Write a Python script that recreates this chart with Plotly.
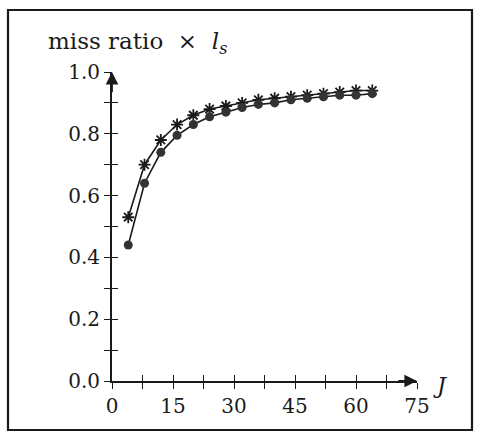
import plotly.graph_objects as go

# Data
J = [4, 8, 12, 16, 20, 24, 28, 32, 36, 40, 44, 48, 52, 56, 60, 64]
star_series = [0.53, 0.70, 0.78, 0.83, 0.86, 0.88, 0.89, 0.90, 0.91, 0.915,
               0.92, 0.925, 0.93, 0.935, 0.94, 0.94]
circle_series = [0.44, 0.64, 0.74, 0.795, 0.83, 0.855, 0.87, 0.885, 0.895, 0.90,
                 0.91, 0.915, 0.92, 0.925, 0.925, 0.93]
x_ticks = [0, 15, 30, 45, 60, 75]
y_ticks = [0.0, 0.2, 0.4, 0.6, 0.8, 1.0]
y_tick_text = ["0.0", "0.2", "0.4", "0.6", "0.8", "1.0"]

FONT = "DejaVu Serif"
INK = "#1a1a1a"

fig = go.Figure()
fig.add_trace(go.Scatter(
    x=J, y=star_series, mode="lines+markers",
    line=dict(color=INK, width=1.6),
    marker=dict(symbol="asterisk", size=10, line=dict(color=INK, width=1.8), color=INK),
    showlegend=False))
fig.add_trace(go.Scatter(
    x=J, y=circle_series, mode="lines+markers",
    line=dict(color=INK, width=1.6),
    marker=dict(symbol="circle", size=9, color="#333333"),
    showlegend=False))

# invisible trace on the overlay axes so they render
fig.add_trace(go.Scatter(x=[None], y=[None], xaxis="x2", yaxis="y2", showlegend=False))

axis_common = dict(showgrid=False, zeroline=False, color=INK, ticklen=6, tickwidth=1.3,
                   tickcolor=INK, tickfont=dict(family=FONT, size=20, color=INK))

fig.update_layout(
    width=478, height=439,
    margin=dict(l=112, r=61, t=72, b=58, autoexpand=False),
    paper_bgcolor="white", plot_bgcolor="white",
    font=dict(family=FONT, color=INK),
    xaxis=dict(range=[0, 75], tickvals=x_ticks, ticks="outside",
               showline=True, linecolor=INK, linewidth=1.8,
               minor=dict(dtick=7.5, tick0=0, ticks="outside", ticklen=6, tickcolor=INK, tickwidth=1.3),
               **axis_common),
    yaxis=dict(range=[0, 1], tickvals=y_ticks, ticktext=y_tick_text, ticks="outside",
               showline=True, linecolor=INK, linewidth=1.8,
               minor=dict(dtick=0.1, tick0=0, ticks="outside", ticklen=6, tickcolor=INK, tickwidth=1.3),
               **axis_common),
    xaxis2=dict(range=[0, 75], overlaying="x", anchor="y2", side="bottom",
                tickvals=x_ticks, ticks="inside", showticklabels=False, showline=False,
                minor=dict(dtick=7.5, tick0=0, ticks="inside", ticklen=6, tickcolor=INK, tickwidth=1.3),
                **axis_common),
    yaxis2=dict(range=[0, 1], overlaying="y", anchor="x2", side="left",
                tickvals=y_ticks, ticks="inside", showticklabels=False, showline=False,
                minor=dict(dtick=0.1, tick0=0, ticks="inside", ticklen=6, tickcolor=INK, tickwidth=1.3),
                **axis_common),
)

# axis arrows
fig.add_annotation(x=0, y=1, ax=0, ay=0.93, xref="x", yref="y", axref="x", ayref="y",
                   text="", showarrow=True, arrowhead=2, arrowsize=1.4, arrowwidth=1.8,
                   arrowcolor=INK)
fig.add_annotation(x=75, y=0, ax=70, ay=0, xref="x", yref="y", axref="x", ayref="y",
                   text="", showarrow=True, arrowhead=2, arrowsize=1.4, arrowwidth=1.8,
                   arrowcolor=INK)

# labels
fig.add_annotation(x=(46 - 112) / 305, y=1 + (72 - 43) / 309, xref="paper", yref="paper",
                   xanchor="left", yanchor="middle",
                   text="miss ratio&nbsp; ×&nbsp; <i>l<sub>s</sub></i>", showarrow=False,
                   font=dict(family=FONT, size=23, color=INK))
fig.add_annotation(x=(440 - 112) / 305, y=(381 - 385) / 309, xref="paper", yref="paper",
                   xanchor="center", yanchor="middle",
                   text="<i>J</i>", showarrow=False,
                   font=dict(family=FONT, size=22, color=INK))

# outer frame
fig.add_shape(type="rect", xref="paper", yref="paper",
              x0=(8 - 112) / 305, x1=(472 - 112) / 305,
              y0=(381 - 430) / 309, y1=1 + (72 - 10) / 309,
              line=dict(color=INK, width=2.2))

fig.write_html("out.html")
